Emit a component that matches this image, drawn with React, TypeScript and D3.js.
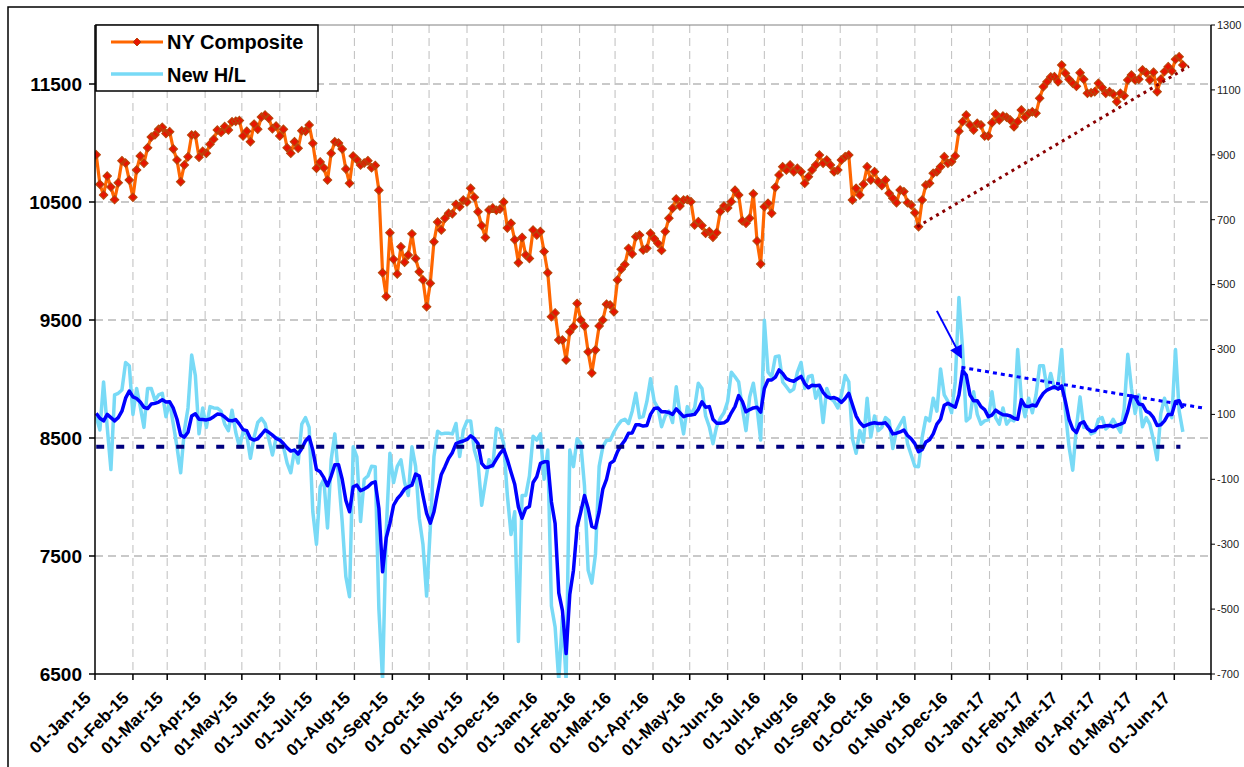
import React from 'react';
import * as d3 from 'd3';

// ---------- data ----------
const START_DATE = '2015-01-02';
const STEP_DAYS = 3;

const nyComposite = [
  10900, 10650, 10560, 10720, 10627, 10520, 10663, 10850, 10830, 10686,
  10540, 10771, 10890, 10828, 10960, 11050, 11070, 11116, 11133, 11080,
  11096, 10950, 10856, 10672, 10814, 10884, 11068, 11068, 10880, 10930,
  10913, 10990, 11031, 11110, 11090, 11140, 11110, 11180, 11185, 11190,
  11060, 11100, 11011, 11160, 11116, 11220, 11237, 11210, 11120, 11144,
  11060, 11116, 10960, 10913, 11011, 10955, 11104, 11100, 11153, 10997,
  10786, 10840, 10790, 10686, 10913, 11010, 11000, 10950, 10780, 10658,
  10890, 10860, 10814, 10830, 10850, 10790, 10810, 10600, 9900, 9700,
  10240, 10014, 9890, 10121, 9990, 10051, 10230, 10022, 9909, 9840,
  9613, 9811, 10164, 10330, 10263, 10362, 10404, 10400, 10480, 10460,
  10517, 10500, 10616, 10540, 10418, 10300, 10200, 10432, 10450, 10430,
  10440, 10500, 10280, 10320, 10180, 9986, 10200, 10050, 10022, 10263,
  10220, 10250, 10080, 9900, 9528, 9560, 9330, 9330, 9161, 9400,
  9443, 9640, 9500, 9450, 9230, 9050, 9246, 9450, 9500, 9634,
  9627, 9570, 9839, 9930, 9970, 10107, 10060, 10206, 10220, 10093,
  10107, 10235, 10190, 10150, 10090, 10249, 10362, 10447, 10525, 10466,
  10517, 10520, 10503, 10305, 10333, 10300, 10235, 10250, 10201, 10240,
  10420, 10466, 10450, 10503, 10600, 10560, 10340, 10319, 10362, 10570,
  10170, 9975, 10460, 10489, 10404, 10625, 10729, 10799, 10771, 10814,
  10757, 10786, 10757, 10658, 10714, 10771, 10814, 10898, 10828, 10856,
  10814, 10757, 10771, 10856, 10884, 10898, 10517, 10616, 10560, 10650,
  10799, 10686, 10757, 10672, 10640, 10686, 10574, 10532, 10494, 10602,
  10588, 10494, 10475, 10409, 10291, 10517, 10644, 10658, 10743, 10757,
  10799, 10884, 10828, 10841, 10890, 11100, 11181, 11237, 11153, 11110,
  11167, 11153, 11059, 11059, 11172, 11246, 11195, 11229, 11218, 11195,
  11138, 11181, 11280, 11218, 11250, 11265, 11252, 11379, 11477, 11519,
  11560, 11562, 11519, 11661, 11591, 11540, 11506, 11480, 11596, 11540,
  11421, 11426, 11435, 11506, 11470, 11421, 11435, 11415, 11350, 11421,
  11400, 11534, 11576, 11534, 11540, 11619, 11596, 11534, 11600, 11435,
  11540, 11605, 11647, 11610, 11709, 11731, 11661,
];

const newHL = [
  93, 52, 200, 60, -70, 160, 165, 175, 260, 250,
  100, 180, 124, 60, 180, 180, 144, 160, 165, 93,
  139, 70, 0, -80, 50, 120, 283, 220, 40, 120,
  60, 124, 120, 119, 110, 70, 50, 113, 45, 0,
  45, 38, -35, 30, 75, 88, 72, 25, -25, 28,
  25, 0, -50, -80, -10, -50, 70, 90, 60, -200,
  -300, -123, -100, -250, -40, 40, -92, -230, -400, -462,
  0, -31, -230, -100, -90, -60, -61, -500, -720, -256,
  -20, -110, -60, -40, -110, -150, 0, -60, -220, -300,
  -460, -250, -30, 48, 40, 42, 42, 40, 72, -30,
  52, 80, 80, -10, -50, -180, -110, -40, -61, 57,
  52, 10, -150, -270, -200, -600, -150, -150, -90, 33,
  21, 40, -100, -10, -490, -555, -720, -520, -720, -10,
  -61, 25, 10, -120, -380, -420, -330, -60, 0, 20,
  20, 45, 65, 80, 85, 72, 110, 165, 90, 93,
  140, 210, 140, 120, 62, 95, 110, 75, 185, 103,
  40, 124, 100, 120, 196, 180, 95, 62, 10, 62,
  88, 105, 140, 230, 216, 200, 120, 50, 154, 196,
  120, 21, 390, 230, 216, 278, 280, 200, 185, 170,
  178, 230, 260, 180, 216, 220, 150, 180, 75, 180,
  150, 140, 120, 160, 220, 200, 25, -20, 50, 15,
  150, 30, 95, 50, 60, 90, 80, -5, 50, 70,
  90, 10, -25, -60, -61, 30, 90, 80, 150, 110,
  240, 160, 140, 105, 200, 460, 300, 80, 90, 170,
  100, 70, 80, 83, 170, 90, 70, 120, 70, 85,
  80, 300, 150, 93, 150, 105, 160, 250, 250, 180,
  226, 180, 190, 300, 110, 0, -72, 60, 154, 60,
  62, 40, 45, 85, 90, 55, 65, 85, 65, 45,
  115, 285, 180, 103, 160, 62, 90, 70, 21, -40,
  103, 150, 110, 90, 300, 110, 46,
];

const newHLAvg = [
  103, 88, 80, 100, 90, 80, 90, 110, 150, 172,
  154, 149, 138, 122, 118, 132, 134, 138, 145, 138,
  139, 119, 85, 36, 30, 45, 95, 102, 85, 84,
  83, 86, 93, 101, 100, 92, 82, 80, 84, 70,
  53, 50, 26, 21, 25, 38, 52, 45, 36, 26,
  21, 10, -3, -13, -10, -22, -5, 18, 31, -10,
  -70, -77, -95, -120, -90, -55, -55, -100, -165, -200,
  -123, -118, -135, -130, -123, -112, -108, -190, -385, -280,
  -236, -180, -160, -147, -130, -123, -118, -84, -90, -150,
  -205, -235, -200, -140, -85, -61, -35, -18, 10, 15,
  18, 23, 34, 25, 10, -51, -64, -62, -57, -38,
  -20, -7, -40, -78, -115, -185, -220, -190, -184, -110,
  -92, -51, -46, -46, -170, -236, -450, -505, -637, -455,
  -380, -246, -200, -150, -190, -245, -250, -200, -130, -100,
  -51, -43, -15, 5, 20, 42, 43, 68, 68, 64,
  66, 100, 118, 120, 108, 108, 106, 100, 117, 105,
  93, 97, 98, 100, 115, 139, 122, 124, 85, 73,
  73, 74, 82, 105, 124, 158, 140, 108, 115, 120,
  122, 107, 180, 206, 206, 215, 237, 226, 210, 205,
  202, 210, 217, 195, 182, 190, 188, 190, 168, 155,
  150, 152, 147, 137, 149, 165, 130, 95, 75, 63,
  68, 72, 74, 72, 72, 74, 60, 40, 42, 46,
  52, 35, 25, 10, -15, -8, 15, 22, 40, 70,
  85, 128, 134, 128, 122, 160, 235, 221, 160, 142,
  142, 124, 115, 93, 98, 113, 105, 99, 98, 95,
  88, 85, 145, 126, 124, 129, 126, 148, 165, 175,
  180, 185, 178, 188, 140, 85, 55, 44, 72, 77,
  56, 48, 50, 62, 62, 65, 66, 62, 66, 70,
  75, 110, 157, 153, 132, 130, 110, 104, 90, 66,
  68, 80, 100, 100, 140, 142, 119,
];

const zeroLine = [
  { date: '2015-01-02', value: 0 },
  { date: '2017-06-06', value: 0 },
];
const nyTrend = [
  { date: '2016-11-03', value: 10290 },
  { date: '2017-06-13', value: 11650 },
];
const hlTrend = [
  { date: '2016-12-09', value: 245 },
  { date: '2017-06-24', value: 120 },
];
const hlArrow = [
  { date: '2016-11-19', value: 419 },
  { date: '2016-12-09', value: 275 },
];

const leftTicks = [6500, 7500, 8500, 9500, 10500, 11500];
const rightTicks = [-700, -500, -300, -100, 100, 300, 500, 700, 900, 1100, 1300];
const xDomain = ['2015-01-01', '2017-07-01'];
const leftDomain = [6500, 12000];
const rightDomain = [-700, 1300];
const seriesNames = ['NY Composite', 'New H/L'];

// ---------- layout ----------
const W = 1244;
const H = 767;
const PL = 95;
const PR = 1211;
const PT = 25;
const PB = 674;
const FONT = '"Liberation Sans", Arial, Helvetica, sans-serif';

const parse = d3.utcParse('%Y-%m-%d');
const start = parse(START_DATE) as Date;
const dateAt = (i: number) => d3.utcDay.offset(start, i * STEP_DAYS);

export default function App() {
  const x = d3
    .scaleUtc()
    .domain(xDomain.map((d) => parse(d) as Date))
    .range([PL, PR]);
  const yL = d3.scaleLinear().domain(leftDomain).range([PB, PT]);
  const yR = d3.scaleLinear().domain(rightDomain).range([PB, PT]);

  const months = d3.utcMonth.range(
    parse(xDomain[0]) as Date,
    d3.utcDay.offset(parse(xDomain[1]) as Date, 1)
  );
  const fmt = d3.utcFormat('%d-%b-%y');

  const nyLine = d3
    .line<number>()
    .x((_, i) => x(dateAt(i)))
    .y((d) => yL(d));
  const rLine = d3
    .line<number>()
    .x((_, i) => x(dateAt(i)))
    .y((d) => yR(d));
  const ptLineR = d3
    .line<{ date: string; value: number }>()
    .x((d) => x(parse(d.date) as Date))
    .y((d) => yR(d.value));
  const ptLineL = d3
    .line<{ date: string; value: number }>()
    .x((d) => x(parse(d.date) as Date))
    .y((d) => yL(d.value));

  const diamond = (cx: number, cy: number, r: number) =>
    `M${cx},${cy - r}L${cx + r},${cy}L${cx},${cy + r}L${cx - r},${cy}Z`;

  const markers = nyComposite
    .map((v, i) => diamond(x(dateAt(i)), yL(v), 4.2))
    .join('');

  const gridH = leftTicks.filter((t) => t !== leftDomain[0]);
  const gridV = months.slice(1, -1);

  return (
    <svg
      width={W}
      height={H}
      style={{ position: 'absolute', left: 0, top: 0, background: '#fff' }}
      fontFamily={FONT}
    >
      <defs>
        <clipPath id="plotClip">
          <rect x={PL} y={PT} width={PR - PL} height={PB - PT + 4} />
        </clipPath>
        <marker
          id="arrowHead"
          viewBox="0 0 10 10"
          refX="9"
          refY="5"
          markerUnits="userSpaceOnUse"
          markerWidth="15"
          markerHeight="13"
          orient="auto"
        >
          <path d="M0,0 L10,5 L0,10 Z" fill="#0000FF" />
        </marker>
      </defs>

      {/* chart area border */}
      <rect x={8} y={7} width={W + 20} height={H + 20} fill="#fff" stroke="#000" strokeWidth={1.5} />

      {/* gridlines */}
      {gridH.map((t) => (
        <line
          key={'gh' + t}
          x1={PL}
          x2={PR}
          y1={yL(t)}
          y2={yL(t)}
          stroke="#B8B8B8"
          strokeWidth={1.3}
          strokeDasharray="8 5"
        />
      ))}
      {gridV.map((d) => (
        <line
          key={'gv' + d.getTime()}
          x1={x(d)}
          x2={x(d)}
          y1={PT}
          y2={PB}
          stroke="#C4C4C4"
          strokeWidth={1.1}
          strokeDasharray="8 5"
        />
      ))}
      <line x1={PL} x2={PR} y1={PT} y2={PT} stroke="#808080" strokeWidth={1} />

      <g clipPath="url(#plotClip)">
        {/* NY Composite */}
        <path d={nyLine(nyComposite) || ''} fill="none" stroke="#FF6600" strokeWidth={3.2} strokeLinejoin="round" />
        <path d={markers} fill="#E81400" stroke="#B8460A" strokeWidth={1.1} />

        {/* New H/L */}
        <path d={rLine(newHL) || ''} fill="none" stroke="#78DAF6" strokeWidth={3.5} strokeLinejoin="round" />
        <path d={rLine(newHLAvg) || ''} fill="none" stroke="#0000FF" strokeWidth={3.5} strokeLinejoin="round" />

        {/* zero line */}
        <path d={ptLineR(zeroLine) || ''} fill="none" stroke="#000080" strokeWidth={4} strokeDasharray="8 12" />
      </g>

      {/* trend annotations */}
      <path d={ptLineL(nyTrend) || ''} fill="none" stroke="#8B0000" strokeWidth={3} strokeDasharray="3 4.3" />
      <path d={ptLineR(hlTrend) || ''} fill="none" stroke="#0000FF" strokeWidth={3} strokeDasharray="4 4" />
      <path d={ptLineR(hlArrow) || ''} fill="none" stroke="#0000FF" strokeWidth={2} markerEnd="url(#arrowHead)" />

      {/* axes */}
      <line x1={PL} x2={PL} y1={PT} y2={PB} stroke="#000" strokeWidth={1.5} />
      <line x1={PR} x2={PR} y1={PT} y2={PB} stroke="#000" strokeWidth={1.5} />
      <line x1={PL} x2={PR} y1={PB} y2={PB} stroke="#000" strokeWidth={1.5} />

      {leftTicks.map((t) => (
        <g key={'lt' + t}>
          <line x1={PL - 6} x2={PL} y1={yL(t)} y2={yL(t)} stroke="#000" strokeWidth={1.5} />
          <text x={PL - 13} y={yL(t)} dy="0.36em" textAnchor="end" fontSize={19} fontWeight="bold" fill="#000">
            {t}
          </text>
        </g>
      ))}
      {rightTicks.map((t) => (
        <g key={'rt' + t}>
          <line x1={PR} x2={PR + 4} y1={yR(t)} y2={yR(t)} stroke="#000" strokeWidth={1} />
          <text x={PR + 6} y={yR(t)} dy="0.35em" textAnchor="start" fontSize={11} fill="#222">
            {t}
          </text>
        </g>
      ))}
      {months.map((d, i) => (
        <g key={'xt' + d.getTime()}>
          <line x1={x(d)} x2={x(d)} y1={PB} y2={PB + 6} stroke="#000" strokeWidth={1.5} />
          {i < months.length - 1 && (
            <text
              transform={`translate(${x(d) - 3},${PB + 25}) rotate(-45)`}
              textAnchor="end"
              fontSize={17}
              fontWeight="bold"
              fill="#000"
            >
              {fmt(d)}
            </text>
          )}
        </g>
      ))}

      {/* legend */}
      <g>
        <rect x={96} y={25} width={222} height={66} fill="#fff" stroke="#000" strokeWidth={1.5} />
        <line x1={111} x2={163} y1={42} y2={42} stroke="#FF6600" strokeWidth={3} />
        <path d={diamond(137, 42, 4)} fill="#E81400" stroke="#B8460A" strokeWidth={1} />
        <text x={167} y={49} fontSize={20} fontWeight="bold" fill="#000">
          {seriesNames[0]}
        </text>
        <line x1={111} x2={163} y1={74} y2={74} stroke="#78DAF6" strokeWidth={3.5} />
        <text x={167} y={82} fontSize={20} fontWeight="bold" fill="#000">
          {seriesNames[1]}
        </text>
      </g>
    </svg>
  );
}
